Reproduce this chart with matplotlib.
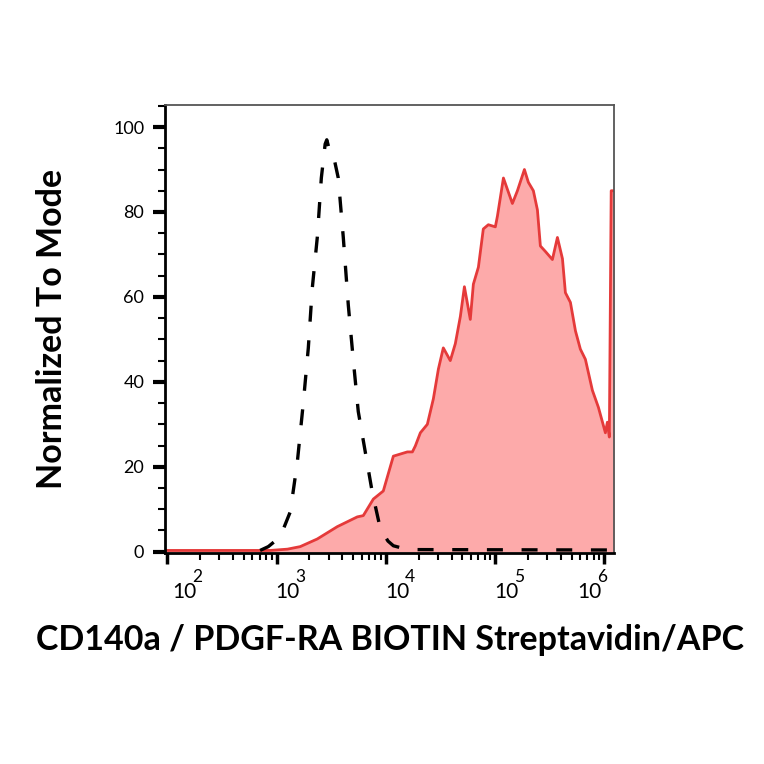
import numpy as np
import matplotlib
matplotlib.use("Agg")
import matplotlib.pyplot as plt
from matplotlib.ticker import FixedLocator, MultipleLocator, NullFormatter

plt.rcParams['font.family'] = ['Lato', 'DejaVu Sans']

# control (isotype) histogram, x as log10 of intensity
ctrl_log = [2.85, 2.925, 3.034, 3.126, 3.19, 3.245, 3.291, 3.327, 3.373, 3.41,
            3.445, 3.46, 3.48, 3.51, 3.565, 3.611, 3.657, 3.703, 3.748, 3.812,
            3.876, 3.95, 4.02, 4.069, 4.2, 6.09]
ctrl_y = [0.3, 1.2, 3.5, 9.4, 21, 35, 48, 62, 74, 88,
          96, 97, 95, 94.6, 88, 74, 58, 45, 33, 23.5,
          14, 5.4, 2.5, 1.4, 0.5, 0.4]

# stained sample histogram
samp_log = [2.0, 2.5, 2.943, 3.1, 3.217, 3.373, 3.556, 3.739, 3.794, 3.886, 3.977,
            4.069, 4.133, 4.197, 4.243, 4.27, 4.316, 4.38, 4.435, 4.481, 4.526,
            4.59, 4.636, 4.682, 4.719, 4.773, 4.801, 4.847, 4.892, 4.938, 5.002,
            5.021, 5.076, 5.158, 5.204, 5.268, 5.304, 5.35, 5.387, 5.414, 5.46,
            5.524, 5.57, 5.616, 5.643, 5.689, 5.735, 5.78, 5.826, 5.89, 5.945,
            6.009, 6.027, 6.045, 6.062, 6.09]
samp_y = [0.3, 0.3, 0.3, 0.6, 1.2, 3.0, 5.9, 8.2, 8.5, 12.4, 14.3,
          22.5, 23.0, 23.5, 23.5, 24.9, 28, 30, 36, 43, 48,
          45, 49, 55.4, 62.4, 54.7, 63, 67, 76, 77, 76.5,
          79, 88, 82, 85, 90, 87, 85, 80.5, 72, 70.7,
          68.8, 74, 69, 61, 58.7, 52, 47.7, 45.3, 38, 34,
          28, 30.5, 27, 85, 85]

decades = [2, 3, 4, 5, 6]
# horizontal shift (px) of each "10^n" label relative to its tick
label_shift_px = [5, -1, -1, -1, -27]

fig = plt.figure(figsize=(7.64, 7.64), dpi=100)
ax = fig.add_axes([0.216, 0.2762, 0.588, 0.5864])

sx = 10 ** np.array(samp_log)
cx = 10 ** np.array(ctrl_log)
ax.fill_between(sx, samp_y, 0, color='#fdaaaa', lw=0, zorder=1)
ax.plot(sx, samp_y, color='#e53a3a', lw=2, zorder=2)
ax.plot(cx, ctrl_y, color='black', lw=2.4, ls=(0, (4.8, 5.6)), zorder=3)

ax.set_xscale('log')
ax.set_xlim(10 ** 1.98, 10 ** 6.09)
ax.set_ylim(-0.3, 105.2)

ax.xaxis.set_major_locator(FixedLocator([10.0 ** d for d in decades]))
ax.xaxis.set_major_formatter(NullFormatter())
minor = [m * 10 ** e for e in range(2, 6) for m in range(2, 10)]
ax.xaxis.set_minor_locator(FixedLocator(minor))
ax.xaxis.set_minor_formatter(NullFormatter())

ax.set_yticks([0, 20, 40, 60, 80, 100])
ax.set_yticklabels(['0', '20', '40', '60', '80', '100'], fontsize=13)
ax.yaxis.set_minor_locator(MultipleLocator(5))

ax.tick_params(axis='x', which='major', direction='out', length=8, width=2.5)
ax.tick_params(axis='x', which='minor', direction='out', length=5, width=1.5)
ax.tick_params(axis='y', which='major', direction='out', length=9, width=3, pad=6)
ax.tick_params(axis='y', which='minor', direction='out', length=5, width=1.5)

# FlowJo-style decade labels: "10" with a large superscript
for d, sh in zip(decades, label_shift_px):
    x0 = 10.0 ** d
    ax.annotate('10', xy=(x0, 0), xycoords=('data', 'axes fraction'),
                xytext=(sh * 0.72, -32.4), textcoords='offset points',
                ha='left', va='baseline', fontsize=15, annotation_clip=False)
    ax.annotate(str(d), xy=(x0, 0), xycoords=('data', 'axes fraction'),
                xytext=((sh + 20) * 0.72, -20.9), textcoords='offset points',
                ha='left', va='baseline', fontsize=12.5, annotation_clip=False)

for s in ['left', 'bottom']:
    ax.spines[s].set_linewidth(2)
    ax.spines[s].set_color('black')
for s in ['top', 'right']:
    ax.spines[s].set_linewidth(1.3)
    ax.spines[s].set_color('#555555')

fig.text(0.511, 1 - 650 / 764, 'CD140a / PDGF-RA BIOTIN Streptavidin/APC',
         fontsize=24.5, fontweight='bold', ha='center', va='baseline')
fig.text(52 / 764, 1 - 329 / 764, 'Normalized To Mode', rotation=90,
         fontsize=24.5, fontweight='bold', ha='center', va='center')

fig.savefig('out.png', dpi=100)
